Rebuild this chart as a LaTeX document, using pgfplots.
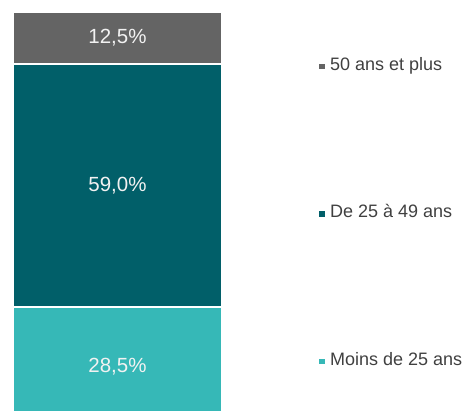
\documentclass[border=0pt]{standalone}
\usepackage{fontspec}
\setmainfont{Liberation Sans}
\usepackage{pgfplots}
\pgfplotsset{compat=1.18}
\definecolor{cgrey}{HTML}{646464}
\definecolor{cdark}{HTML}{015F69}
\definecolor{clight}{HTML}{36B8B7}
\definecolor{ctext}{HTML}{404040}
\tikzset{barlabel/.style={anchor=center, text=white!95!black,
    font=\fontsize{20.5bp}{23bp}\selectfont}}
\begin{document}
\begin{tikzpicture}
\begin{axis}[
  at={(0,0)}, anchor=south west,
  scale only axis, width=209bp, height=400bp,
  ybar stacked, bar width=1,
  xmin=-0.5, xmax=0.5, ymin=3.15, ymax=100,
  axis lines=none, xtick=\empty, ytick=\empty,
  reverse legend,
  legend cell align=left,
  legend style={draw=none, fill=none, inner sep=0pt,
    at={(axis description cs:1.464,0.887)}, anchor=north west,
    font=\fontsize{18bp}{20bp}\selectfont, text=ctext,
    nodes={inner sep=0pt, text height=13bp, text depth=5bp},
    row sep=129.5bp,
    /tikz/every odd column/.append style={column sep=5.5bp}},
  legend image code/.code={\fill[#1,draw=none] (0bp,-2.8bp) rectangle (5.5bp,2.8bp);},
]
\addplot[fill=clight, draw=white, line width=2bp] coordinates {(0,28.5)};
\addlegendentry{Moins de 25 ans}
\addplot[fill=cdark, draw=white, line width=2bp] coordinates {(0,59.0)};
\addlegendentry{De 25 à 49 ans}
\addplot[fill=cgrey, draw=white, line width=2bp] coordinates {(0,12.5)};
\addlegendentry{50 ans et plus}
\coordinate (la) at (axis cs:0,14.25);
\coordinate (lb) at (axis cs:0,58.0);
\coordinate (lc) at (axis cs:0,93.75);
\end{axis}
\node[barlabel] at (la) {28,5\%};
\node[barlabel] at (lb) {59,0\%};
\node[barlabel] at (lc) {12,5\%};
\path (-13bp,0) rectangle (451bp,412bp);
\end{tikzpicture}
\end{document}
